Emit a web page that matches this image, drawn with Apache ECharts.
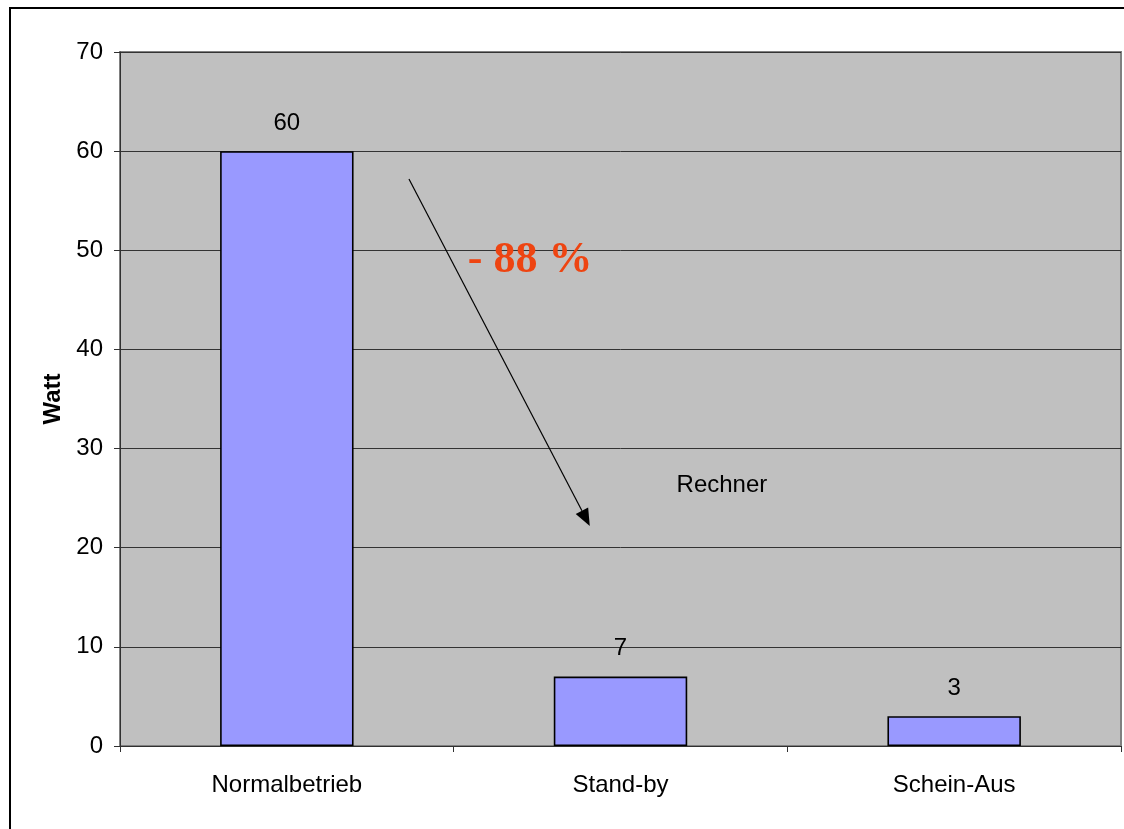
<!DOCTYPE html>
<html>
<head>
<meta charset="utf-8">
<script src="https://cdn.jsdelivr.net/npm/echarts@6/dist/echarts.min.js"></script>
<style>
  html, body { margin: 0; padding: 0; background: #fff; }
  #chart { width: 1124px; height: 829px; }
</style>
</head>
<body>
<div id="chart"></div>
<script>
// Leistungsaufnahme eines Rechners in drei Betriebszuständen
const categories = ['Normalbetrieb', 'Stand-by', 'Schein-Aus'];
const watt = [60, 7, 3];
const yTicks = [0, 10, 20, 30, 40, 50, 60, 70];

// Annotation anchors in data space: [category position, Watt]
// (category position may be fractional: 0 = first bar centre, 1 = second)
const arrowFrom = [0.366, 57.2];
const arrowTo = [0.908, 22.2];
const reductionLabel = '- 88 %';
const reductionAt = [0.729, 49.0];
const deviceLabel = 'Rechner';
const deviceAt = [1.304, 26.3];

const FONT = '"Liberation Sans", Arial, sans-serif';
const FS = 24;

const chart = echarts.init(document.getElementById('chart'), null, { renderer: 'canvas' });

const option = {
  animation: false,
  backgroundColor: '#ffffff',
  grid: {
    left: 120, right: 3, top: 52, bottom: 83,
    show: true,
    backgroundColor: '#c0c0c0',
    borderColor: '#808080',
    borderWidth: 2
  },
  xAxis: {
    type: 'category',
    data: categories,
    axisLine: { lineStyle: { color: '#303030', width: 1 } },
    axisTick: { show: true, alignWithLabel: false, length: 6, lineStyle: { color: '#303030' } },
    axisLabel: { color: '#000', fontFamily: FONT, fontSize: FS, margin: 27 },
    splitLine: { show: false }
  },
  yAxis: {
    type: 'value',
    min: yTicks[0],
    max: yTicks[yTicks.length - 1],
    interval: yTicks[1] - yTicks[0],
    name: 'Watt',
    nameLocation: 'middle',
    nameGap: 55,
    nameRotate: 90,
    nameTextStyle: { color: '#000', fontFamily: FONT, fontSize: FS, fontWeight: 'bold' },
    axisLine: { show: true, lineStyle: { color: '#303030', width: 1 } },
    axisTick: { show: true, length: 6, lineStyle: { color: '#303030' } },
    axisLabel: { color: '#000', fontFamily: FONT, fontSize: FS, margin: 17 },
    splitLine: { show: true, lineStyle: { color: '#333333', width: 1 } }
  },
  series: [{
    type: 'bar',
    data: watt,
    barWidth: '40%',
    itemStyle: { color: '#9999ff', borderColor: '#000', borderWidth: 1.6 },
    label: {
      show: true,
      position: 'top',
      distance: 16,
      color: '#000',
      fontFamily: FONT,
      fontSize: FS
    }
  }]
};

chart.setOption(option);

// Convert [fractional category position, value] to pixels by interpolating
// between the pixel centres of neighbouring categories.
function toPixel(pt) {
  const a = chart.convertToPixel({ gridIndex: 0 }, [0, pt[1]]);
  const b = chart.convertToPixel({ gridIndex: 0 }, [1, pt[1]]);
  return [a[0] + (b[0] - a[0]) * pt[0], a[1]];
}

const p0 = toPixel(arrowFrom);
const p1 = toPixel(arrowTo);
const pr = toPixel(reductionAt);
const pd = toPixel(deviceAt);

const ang = Math.atan2(p1[1] - p0[1], p1[0] - p0[0]);
const headLen = 17, headHalf = 7;
const bx = p1[0] - headLen * Math.cos(ang);
const by = p1[1] - headLen * Math.sin(ang);
const nx = -Math.sin(ang), ny = Math.cos(ang);

chart.setOption({
  graphic: [
    {
      type: 'rect',
      shape: { x: 10, y: 8, width: 1300, height: 1000 },
      style: { fill: 'none', stroke: '#000', lineWidth: 2 },
      z: 100
    },
    {
      type: 'line',
      shape: { x1: p0[0], y1: p0[1], x2: bx, y2: by },
      style: { stroke: '#000', lineWidth: 1.2 },
      z: 100
    },
    {
      type: 'polygon',
      shape: {
        points: [
          [p1[0], p1[1]],
          [bx + nx * headHalf, by + ny * headHalf],
          [bx - nx * headHalf, by - ny * headHalf]
        ]
      },
      style: { fill: '#000' },
      z: 100
    },
    {
      type: 'text',
      x: pr[0], y: pr[1],
      style: {
        text: reductionLabel,
        fill: '#ee4411',
        font: 'bold 44px "Liberation Serif", "Times New Roman", serif',
        textAlign: 'center',
        textVerticalAlign: 'middle'
      },
      z: 100
    },
    {
      type: 'text',
      x: pd[0], y: pd[1],
      style: {
        text: deviceLabel,
        fill: '#000',
        font: FS + 'px "Liberation Sans", Arial, sans-serif',
        textAlign: 'center',
        textVerticalAlign: 'middle'
      },
      z: 100
    }
  ]
});
</script>
</body>
</html>
